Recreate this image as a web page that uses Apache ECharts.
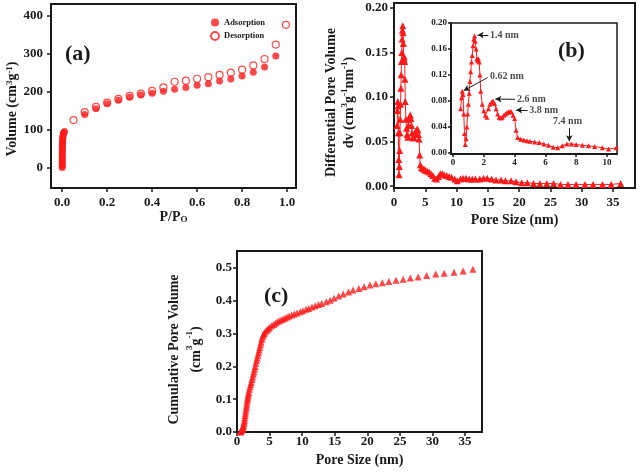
<!DOCTYPE html>
<html><head><meta charset="utf-8">
<script src="https://cdn.jsdelivr.net/npm/echarts@6/dist/echarts.min.js"></script>
<style>html,body{margin:0;padding:0;background:#fff}#c{width:641px;height:472px}</style>
</head><body><div id="c"></div>
<script>
// ---- Panel (a): N2 isotherm ----
const adsP = [0.00001,0.00002,0.00004,0.00006,0.00008,0.0001,0.00015,0.0002,0.0003,0.0004,0.0005,0.0006,0.0008,0.001,0.0012,0.0015,0.002,0.0025,0.003,0.004,0.005,0.007,0.01,
  0.1,0.15,0.2,0.25,0.3,0.35,0.4,0.45,0.5,0.55,0.6,0.65,0.7,0.75,0.8,0.85,0.9,0.95];
const adsV = [1,5,9,14,18,22,27,32,37,42,47,52,57,62,66,70,75,79,83,87,90,93,96,
  141,156,169,178,186,192,197,202,207,212,218,222,229,234,242,252,266,295];
const desP = [0.05,0.1,0.15,0.2,0.25,0.3,0.35,0.4,0.45,0.5,0.55,0.6,0.65,0.7,0.75,0.8,0.85,0.9,0.95,0.995];
const desV = [126,147,161,172,182,190,196,203,212,227,230,235,239,245,251,259,270,287,325,377];
const aXTicks = [0,0.2,0.4,0.6,0.8,1.0];
const aYTicks = [0,100,200,300,400];

// ---- Panels (b) and (c): pore size distribution ----
const poreSize = [0.5,0.55,0.6,0.65,0.7,0.75,0.8,0.85,0.9,0.95,1.0,1.05,1.1,1.15,1.2,1.25,1.3,1.35,1.4,1.45,1.5,1.55,1.6,1.65,1.7,1.75,1.8,
  1.9,2.0,2.1,2.2,2.3,2.4,2.5,2.6,2.7,2.8,2.9,3.0,3.1,3.2,3.3,3.4,3.5,3.6,3.7,3.8,3.9,4.0,4.1,4.2,
  4.4,4.6,4.8,5.0,
  5.3,5.6,5.9,6.2,6.5,6.8,7.1,7.4,7.7,8.0,
  8.4,8.8,9.2,9.7,
  10.1,10.6,11.0,11.5,
  12.0,12.5,13.0,13.7,14.3,14.9,15.6,16.3,17.1,17.8,18.7,19.5,
  20.4,21.3,22.3,23.3,24.4,25.5,26.6,27.8,29.1,30.5,31.8,33.3,34.7,36.2];
const psdValues = [0.068,0.085,0.095,0.09,0.06,0.03,0.013,0.022,0.04,0.06,0.075,0.092,0.11,0.125,0.14,0.15,0.165,0.175,0.18,0.172,0.16,0.145,0.142,0.145,0.14,0.12,0.095,
  0.075,0.065,0.058,0.055,0.068,0.075,0.078,0.08,0.076,0.068,0.06,0.055,0.054,0.055,0.058,0.06,0.062,0.063,0.064,0.063,0.058,0.053,0.035,0.024,
  0.021,0.02,0.019,0.018,
  0.017,0.016,0.014,0.012,0.009,0.008,0.011,0.014,0.014,0.013,
  0.012,0.011,0.01,0.008,
  0.006,0.008,0.009,0.009,
  0.008,0.008,0.008,0.008,0.009,0.009,0.008,0.007,0.007,0.006,0.006,0.005,
  0.004,0.004,0.003,0.003,0.003,0.003,0.002,0.002,0.002,0.002,0.002,0.002,0.002,0.003];
const cumValues = [0.0,0.001,0.002,0.004,0.006,0.008,0.009,0.01,0.012,0.016,0.02,0.025,0.03,0.036,0.043,0.05,0.057,0.064,0.071,0.078,0.085,0.092,0.098,0.104,0.11,0.116,0.121,
  0.13,0.138,0.145,0.152,0.16,0.168,0.176,0.184,0.192,0.2,0.21,0.218,0.226,0.234,0.242,0.25,0.258,0.266,0.274,0.282,0.289,0.295,0.299,0.302,
  0.307,0.311,0.315,0.319,
  0.324,0.328,0.332,0.336,0.339,0.342,0.345,0.348,0.351,0.354,
  0.357,0.36,0.363,0.367,
  0.37,0.374,0.377,0.381,
  0.385,0.389,0.392,0.397,0.402,0.408,0.415,0.421,0.427,0.433,0.438,0.443,
  0.448,0.452,0.455,0.459,0.463,0.466,0.47,0.473,0.477,0.482,0.484,0.487,0.491,0.496];
const bXTicks = [0,5,10,15,20,25,30,35];
const bYTicks = [0,0.05,0.10,0.15,0.20];
const insetXTicks = [0,2,4,6,8,10];
const insetYTicks = [0,0.04,0.08,0.12,0.16,0.20];
const cXTicks = [0,5,10,15,20,25,30,35];
const cYTicks = [0,0.1,0.2,0.3,0.4,0.5];

// inset annotations
const annText = ['1.4 nm','0.62 nm','2.6 nm','3.8 nm','7.4 nm'];
const annTextX = [2.4,2.4,4.16,4.95,6.5];
const annTextY = [0.1815,0.1185,0.083,0.066,0.048];
const arrowFrom = [[2.3,0.1815],[2.25,0.116],[4.03,0.0826],[4.85,0.066],[7.55,0.038]];
const arrowTo   = [[1.6,0.1815],[0.7,0.096],[2.75,0.083],[4.1,0.066],[7.55,0.018]];

const FONT = "'Liberation Serif','Times New Roman',serif";
const RED = '#ff1a1a';
const INK = '#1a1a1a';
const zip = (xs, ys) => xs.map((x, i) => [x, ys[i]]);

const rich = {
  sup: {fontSize: 9, fontWeight: 'bold', fontFamily: FONT, color: INK, verticalAlign: 'top'},
  sub: {fontSize: 9, fontWeight: 'bold', fontFamily: FONT, color: INK, verticalAlign: 'bottom'}
};
const nameStyle = (extra) => Object.assign({fontFamily: FONT, fontWeight: 'bold', fontSize: 14, color: INK, rich}, extra || {});

function xAxis(gi, min, max, ticks, fmt, o) {
  o = o || {};
  return {
    type: 'value', gridIndex: gi, min, max,
    axisLine: {show: true, onZero: false, lineStyle: {color: INK, width: 2}},
    axisTick: {show: true, customValues: ticks, length: o.tickLen || 4, lineStyle: {color: INK, width: 1.5}},
    axisLabel: {customValues: ticks, formatter: fmt, fontFamily: FONT, fontWeight: 'bold', fontSize: o.fs || 13, color: INK, margin: o.margin || 8},
    splitLine: {show: false},
    name: o.name || '', nameLocation: 'middle', nameGap: o.gap || 22, nameTextStyle: nameStyle(o.nameStyle)
  };
}
function yAxis(gi, min, max, ticks, fmt, o) {
  o = o || {};
  return {
    type: 'value', gridIndex: gi, min, max,
    axisLine: {show: true, onZero: false, lineStyle: {color: INK, width: 2}},
    axisTick: {show: true, customValues: ticks, length: o.tickLen || 4, lineStyle: {color: INK, width: 1.5}},
    axisLabel: {customValues: ticks, formatter: fmt, fontFamily: FONT, fontWeight: 'bold', fontSize: o.fs || 13, color: INK, margin: o.margin || 8},
    splitLine: {show: false},
    name: o.name || '', nameLocation: 'middle', nameRotate: 90, nameGap: o.gap || 30, nameTextStyle: nameStyle(o.nameStyle)
  };
}

const chart = echarts.init(document.getElementById('c'), null, {renderer: 'canvas'});
const gridBox = {show: true, borderColor: INK, borderWidth: 2, backgroundColor: 'rgba(0,0,0,0)'};

chart.setOption({
  animation: false,
  backgroundColor: '#fff',
  grid: [
    Object.assign({left: 51, top: 4, width: 245, height: 184}, gridBox),
    Object.assign({left: 394, top: 3, width: 241, height: 185}, gridBox),
    Object.assign({left: 451, top: 23, width: 166, height: 131}, gridBox, {backgroundColor: '#fff', borderWidth: 1.5}),
    Object.assign({left: 237, top: 251, width: 245, height: 181}, gridBox)
  ],
  xAxis: [
    xAxis(0, -0.05, 1.04, aXTicks, v => v.toFixed(1), {name: 'P/P{sub|O}', gap: 21}),
    xAxis(1, 0, 38.5, bXTicks, v => String(v), {name: 'Pore Size (nm)', gap: 25}),
    xAxis(2, -0.13, 10.65, insetXTicks, v => String(v), {fs: 9, margin: 4, tickLen: 3}),
    xAxis(3, 0, 37.6, cXTicks, v => String(v), {name: 'Pore Size (nm)', gap: 21, margin: 3})
  ],
  yAxis: [
    yAxis(0, -53, 432, aYTicks, v => String(v), {name: 'Volume (cm{sup|3}g{sup|-1})', gap: 32, nameStyle: {padding: [0, 26, 0, 0]}}),
    yAxis(1, -0.002, 0.2055, bYTicks, v => v.toFixed(2), {name: 'Differential Pore Volume\ndv (cm{sup|3}g{sup|-1}nm{sup|-1})', gap: 36, margin: 6, nameStyle: {lineHeight: 18, padding: [0, 14, 0, 0]}}),
    yAxis(2, -0.0015, 0.2, insetYTicks, v => v.toFixed(2), {fs: 9, margin: 4, tickLen: 3}),
    yAxis(3, 0, 0.552, cYTicks, v => v.toFixed(1), {name: 'Cumulative Pore Volume\n(cm{sup|3}g{sup|-1})', gap: 30, margin: 5, nameStyle: {lineHeight: 22, padding: [0, 16, 0, 0]}})
  ],
  legend: {
    data: ['Adsorption', 'Desorption'], orient: 'vertical', left: 205, top: 13,
    itemWidth: 8, itemHeight: 8, itemGap: 4,
    textStyle: {fontFamily: FONT, fontWeight: 'bold', fontSize: 8.5, color: INK}
  },
  title: [
    {text: '(a)', left: 60, top: 38, textStyle: {fontFamily: FONT, fontWeight: 'bold', fontSize: 22, color: INK}},
    {text: '(b)', left: 553, top: 35, textStyle: {fontFamily: FONT, fontWeight: 'bold', fontSize: 22, color: INK}},
    {text: '(c)', left: 259, top: 280, textStyle: {fontFamily: FONT, fontWeight: 'bold', fontSize: 22, color: INK}}
  ],
  series: [
    {name: 'Adsorption', type: 'scatter', xAxisIndex: 0, yAxisIndex: 0, symbol: 'circle', symbolSize: 7,
     itemStyle: {color: RED}, data: zip(adsP, adsV)},
    {name: 'Desorption', type: 'scatter', xAxisIndex: 0, yAxisIndex: 0, symbol: 'circle', symbolSize: 7,
     itemStyle: {color: 'rgba(255,255,255,0)', borderColor: RED, borderWidth: 1.2}, data: zip(desP, desV)},
    {name: 'PSD', type: 'line', xAxisIndex: 1, yAxisIndex: 1, symbol: 'triangle', symbolSize: 7,
     lineStyle: {color: RED, width: 1}, itemStyle: {color: RED}, data: zip(poreSize, psdValues)},
    {name: 'PSD inset', type: 'line', xAxisIndex: 2, yAxisIndex: 2, symbol: 'triangle', symbolSize: 5, clip: true,
     lineStyle: {color: RED, width: 1}, itemStyle: {color: RED}, data: zip(poreSize, psdValues)},
    {name: 'Annotations', type: 'scatter', xAxisIndex: 2, yAxisIndex: 2, symbolSize: 0, silent: true,
     data: annText.map((t, i) => ({value: [annTextX[i], annTextY[i]], name: t})),
     label: {show: true, position: 'right', distance: 0, formatter: p => p.name,
             fontFamily: FONT, fontWeight: 'bold', fontSize: 10, color: INK},
     markLine: {silent: true, symbol: ['none', 'arrow'], symbolSize: [5, 6], animation: false,
       lineStyle: {color: INK, width: 1, type: 'solid'}, label: {show: false},
       data: arrowFrom.map((f, i) => [{coord: f}, {coord: arrowTo[i]}])}},
    {name: 'Cumulative', type: 'scatter', xAxisIndex: 3, yAxisIndex: 3, symbol: 'triangle', symbolSize: 7,
     itemStyle: {color: RED}, data: zip(poreSize, cumValues)}
  ]
});
</script>
</body></html>
